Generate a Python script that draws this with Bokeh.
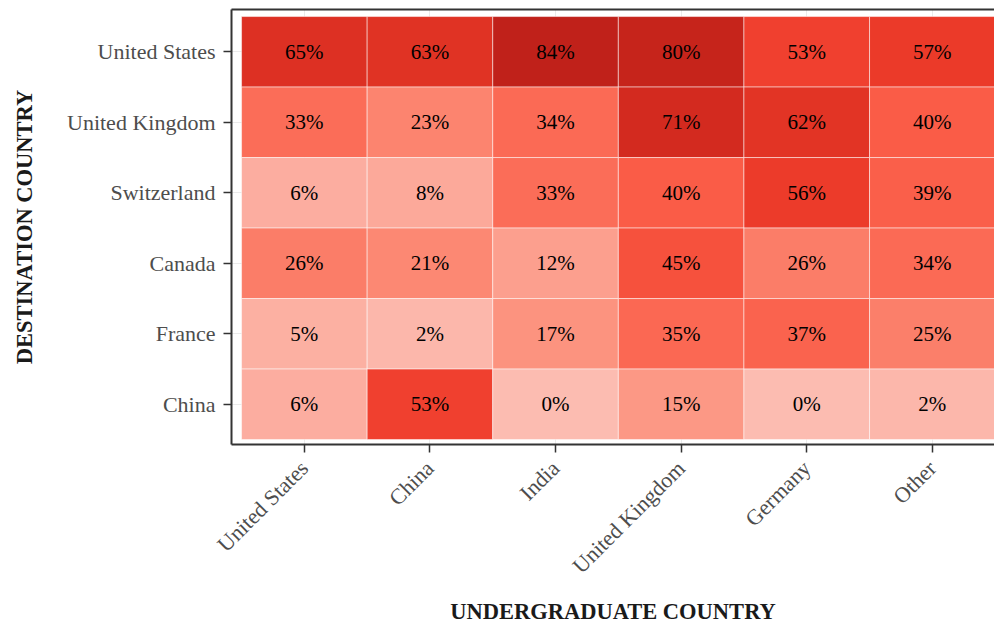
import numpy as np
from bokeh.plotting import figure
from bokeh.models import ColumnDataSource, LinearColorMapper, LinearAxis, FixedTicker
from bokeh.transform import transform
from bokeh.core.properties import value
from bokeh.embed import file_html
from bokeh.resources import INLINE
import math

undergrad = ["United States", "China", "India", "United Kingdom", "Germany", "Other"]
destination = ["United States", "United Kingdom", "Switzerland", "Canada", "France", "China"]
pct_us = [65, 63, 84, 80, 53, 57]
pct_uk = [33, 23, 34, 71, 62, 40]
pct_ch = [6, 8, 33, 40, 56, 39]
pct_ca = [26, 21, 12, 45, 26, 34]
pct_fr = [5, 2, 17, 35, 37, 25]
pct_cn = [6, 53, 0, 15, 0, 2]
rows = [pct_us, pct_uk, pct_ch, pct_ca, pct_fr, pct_cn]

# colour anchors (value, hex)
anchors = [(0, "#fcbcb1"), (20, "#fc8b76"), (40, "#fa5c47"), (55, "#ee3c2b"), (70, "#d52b1f"), (84, "#c0211a")]

def hex2rgb(h):
    return np.array([int(h[i:i + 2], 16) for i in (1, 3, 5)], dtype=float)

vals = np.linspace(0, 84, 256)
av = [a[0] for a in anchors]
ac = np.array([hex2rgb(a[1]) for a in anchors])
palette = []
for v in vals:
    rgb = [np.interp(v, av, ac[:, k]) for k in range(3)]
    palette.append("#%02x%02x%02x" % tuple(int(round(c)) for c in rgb))

xs, ys, vs, labels = [], [], [], []
n = len(destination)
for ri, (dest, row) in enumerate(zip(destination, rows)):
    for ci, v in enumerate(row):
        xs.append(ci + 1)
        ys.append(n - ri)
        vs.append(v)
        labels.append(f"{v}%")

src = ColumnDataSource(dict(x=xs, y=ys, v=vs, label=labels))
mapper = LinearColorMapper(palette=palette, low=0, high=84)

FONT = "Liberation Serif"

p = figure(width=994, height=628, x_range=(0.42, 6.495), y_range=(0.43, 6.6),
           output_backend="svg", toolbar_location=None,
           min_border_left=231, min_border_top=9, min_border_right=0, min_border_bottom=184)
p.outline_line_color = None
p.background_fill_color = "white"

p.rect(x="x", y="y", width=1, height=1, source=src,
       fill_color=transform("v", mapper), line_color="white", line_alpha=0.5, line_width=1)
p.text(x="x", y="y", text="label", source=src, text_align="center", text_baseline="middle",
       text_font=value(FONT), text_font_size="21px", text_color="black")

p.xaxis.ticker = FixedTicker(ticks=list(range(1, 7)))
p.yaxis.ticker = FixedTicker(ticks=list(range(1, 7)))
p.xaxis.major_label_overrides = {i + 1: undergrad[i] for i in range(6)}
p.yaxis.major_label_overrides = {n - i: destination[i] for i in range(6)}
p.xaxis.major_label_orientation = math.pi / 4
p.xaxis.axis_label = "UNDERGRADUATE COUNTRY"
p.yaxis.axis_label = "DESTINATION COUNTRY"

for ax in (p.xaxis, p.yaxis):
    ax.axis_line_color = "#333333"
    ax.axis_line_width = 2
    ax.major_tick_line_color = "#333333"
    ax.major_tick_line_width = 1.5
    ax.major_tick_out = 8
    ax.major_tick_in = 0
    ax.minor_tick_line_color = None
    ax.major_label_text_font = FONT
    ax.major_label_text_font_size = "22px"
    ax.major_label_text_color = "#4d4d4d"
    ax.axis_label_text_font = FONT
    ax.axis_label_text_font_size = "22.5px"
    ax.axis_label_text_font_style = "bold"
    ax.axis_label_text_color = "#1a1a1a"

p.xaxis.major_label_standoff = 12
p.yaxis.major_label_standoff = 8
p.xaxis.axis_label_standoff = 9
p.yaxis.axis_label_standoff = 27

top = LinearAxis(ticker=FixedTicker(ticks=[]), major_label_text_font_size="0px",
                 axis_line_color="#333333", axis_line_width=2,
                 major_tick_line_color=None, minor_tick_line_color=None)
p.add_layout(top, "above")

p.grid.grid_line_color = "#ebebeb"
p.grid.grid_line_width = 1
p.xgrid.ticker = FixedTicker(ticks=list(range(1, 7)))
p.ygrid.ticker = FixedTicker(ticks=list(range(1, 7)))

open("out.html", "w").write(file_html(p, INLINE))
